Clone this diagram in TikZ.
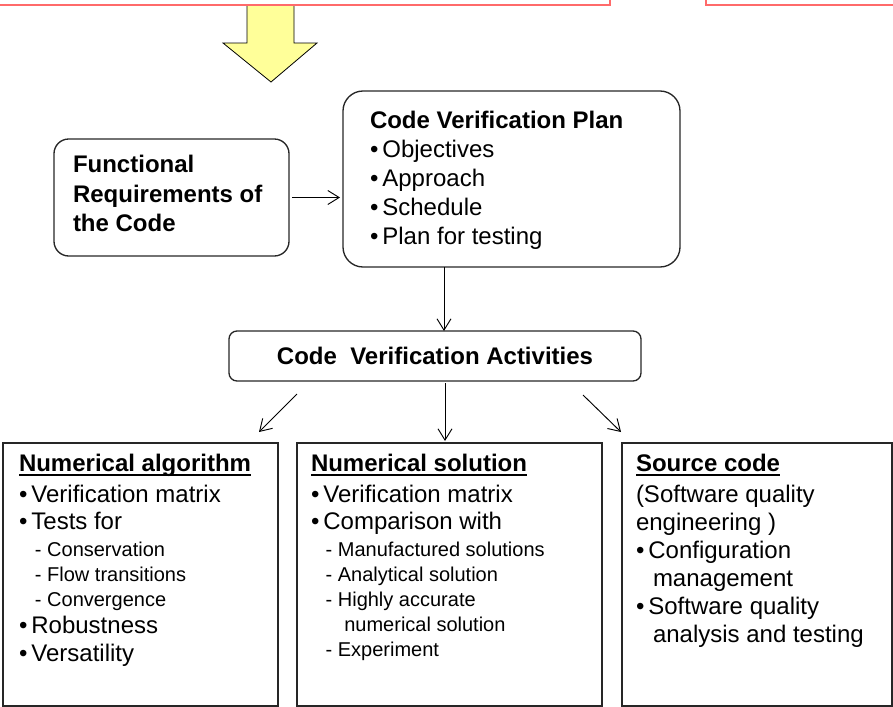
\documentclass[tikz,border=0pt]{standalone}
\usepackage{fontspec}
\setmainfont{Liberation Sans}
\usepackage{tikz}
\usetikzlibrary{arrows.meta, calc}
\definecolor{arrowyellow}{HTML}{FFFF99}
\definecolor{frame}{HTML}{FF6A6A}
\newcommand{\headline}[1]{\setbox0=\hbox{#1}\rlap{\rule[-3pt]{\wd0}{1.5pt}}\box0}
\newcommand{\minor}{\fontsize{15}{18}\selectfont}

\begin{document}
\begin{tikzpicture}[x=0.75pt, y=-0.75pt,
   every node/.style={inner sep=0pt, outer sep=0pt},
   roundbox/.style={draw=black!85, line width=1pt, rounded corners=#1},
   listbox/.style={draw=black!85, line width=0.9pt},
   listtext/.style={anchor=north west, align=left, font=\fontsize{18}{21}\selectfont},
   link/.style={-{Straight Barb[length=8.5pt,width=10.5pt]}, line width=0.7pt}]
   \newcommand{\pxu}{0.75pt}
   \clip (0,0) rectangle (893,707);
   \draw[fill=arrowyellow, line width=0.6pt] (247,5) -- (247,43) -- (223,43) -- (271,82)
      -- (317,43) -- (294,43) -- (294,5);
   \draw[frame, line width=0.9pt] (-2,-20) rectangle (610,5);
   \draw[frame, line width=0.9pt] (706,-20) rectangle (900,5);

   \node[roundbox=11pt, minimum width=235*\pxu, minimum height=117*\pxu] (req) at (171.5,197.5) {};
   \node[listtext, font=\bfseries\fontsize{18}{22}\selectfont] (reqtext) at ($(req.north west)+(19,16.5)$)
      {Functional\\Requirements of\\the Code};

   \node[roundbox=15pt, minimum width=337*\pxu, minimum height=176*\pxu] (plan) at (511.5,179) {};
   \node[listtext] (plantext) at ($(plan.north west)+(27,20.5)$)
      {{\bfseries Code Verification Plan}\\[0.75pt]
       •\,Objectives\\[0.75pt]
       •\,Approach\\[0.75pt]
       •\,Schedule\\[0.75pt]
       •\,Plan for testing};

   \node[roundbox=6pt, minimum width=412*\pxu, minimum height=50*\pxu,
      font=\bfseries\fontsize{18}{21}\selectfont] (act) at (435,356) {Code~~Verification Activities};

   \node[listbox, minimum width=275*\pxu, minimum height=263*\pxu] (alg) at (140.5,574.5) {};
   \node[listbox, minimum width=305*\pxu, minimum height=263*\pxu] (sol) at (449.5,574.5) {};
   \node[listbox, minimum width=270*\pxu, minimum height=263*\pxu] (src) at (757,574.5) {};

   \node[listtext] (algtext) at ($(alg.north west)+(16,11.5)$)
      {{\bfseries\headline{Numerical algorithm}}\\[2.25pt]
       •\,Verification matrix\\[-0.75pt]
       •\,Tests for\\[-0.75pt]
       \hspace*{12pt}{\minor - Conservation}\\[-2.25pt]
       \hspace*{12pt}{\minor - Flow transitions}\\[-2.25pt]
       \hspace*{12pt}{\minor - Convergence}\\[-0.75pt]
       •\,Robustness\\
       •\,Versatility};

   \node[listtext] (soltext) at ($(sol.north west)+(14,11.5)$)
      {{\bfseries\headline{Numerical solution}}\\[2.25pt]
       •\,Verification matrix\\[-0.75pt]
       •\,Comparison with\\[-0.75pt]
       \hspace*{11pt}{\minor - Manufactured solutions}\\[-2.25pt]
       \hspace*{11pt}{\minor - Analytical solution}\\[-2.25pt]
       \hspace*{11pt}{\minor - Highly accurate}\\[-2.25pt]
       \hspace*{25pt}{\minor numerical solution}\\[-2.25pt]
       \hspace*{11pt}{\minor - Experiment}};

   \node[listtext] (srctext) at ($(src.north west)+(14,11.5)$)
      {{\bfseries\headline{Source code}}\\[2.25pt]
       (Software quality\\
       engineering )\\
       •\,Configuration\\
       \hspace*{12.75pt}management\\
       •\,Software quality\\
       \hspace*{12.75pt}analysis and testing};

   \coordinate (planfoot) at ($(act.north)+(9,0)$);
   \draw[link] ($(req.east)+(3,0)$) -- ($(plan.west |- req.east)+(-3,0)$);
   \draw[link] (planfoot |- plan.south) -- (planfoot);
   \draw[link] ($(act.south west)+(68,13)$) -- ($(alg.north east)+(-19,-11)$);
   \draw[link] ($(sol.north |- act.south)+(-4.5,2)$) -- ($(sol.north)+(-4.5,-2)$);
   \draw[link] ($(act.south east)+(-58,14)$) -- ($(src.north west)+(-1,-11)$);
\end{tikzpicture}
\end{document}
